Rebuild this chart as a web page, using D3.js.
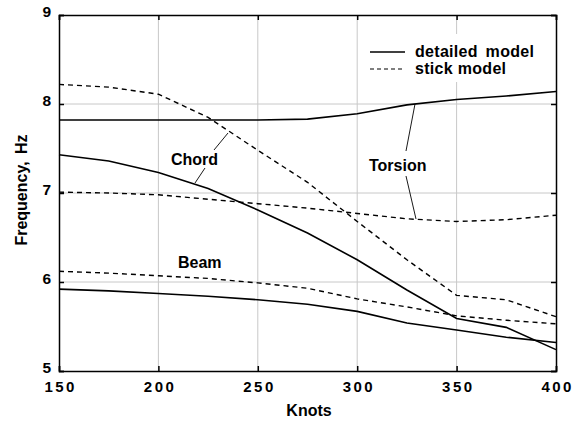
<!DOCTYPE html>
<html><head><meta charset="utf-8">
<script src="https://cdn.jsdelivr.net/npm/d3@7"></script>
<style>body{margin:0;background:#fff}svg{display:block}text{font-family:Arial,"Liberation Sans",sans-serif;font-weight:bold}</style>
</head><body>
<svg id="c" width="581" height="423"></svg>
<script>
const knots = [150,175,200,225,250,275,300,325,350,375,400];
const torsionDetailed = [7.82,7.82,7.82,7.82,7.82,7.83,7.89,7.99,8.05,8.09,8.14];
const torsionStick    = [7.01,7.00,6.98,6.93,6.88,6.83,6.77,6.71,6.68,6.70,6.75];
const chordDetailed   = [7.43,7.36,7.23,7.05,6.81,6.55,6.25,5.91,5.59,5.49,5.24];
const chordStick      = [8.22,8.19,8.11,7.85,7.48,7.12,6.68,6.25,5.85,5.80,5.61];
const beamDetailed    = [5.92,5.90,5.87,5.84,5.80,5.75,5.67,5.54,5.46,5.38,5.32];
const beamStick       = [6.12,6.10,6.07,6.04,5.99,5.93,5.81,5.72,5.62,5.57,5.53];
const xTicks = [150,200,250,300,350,400];
const yTicks = [5,6,7,8,9];

const svg = d3.select("#c");
const x = d3.scaleLinear().domain([150,400]).range([59,556]);
const y = d3.scaleLinear().domain([5,9]).range([371,15]);
const g = svg.append("g");

// grid
g.selectAll(".gx").data(xTicks.slice(1,-1)).enter().append("line")
 .attr("x1",d=>x(d)).attr("x2",d=>x(d)).attr("y1",y(9)).attr("y2",y(5))
 .attr("stroke","#c8c8c8").attr("stroke-width",1);
g.selectAll(".gy").data(yTicks.slice(1,-1)).enter().append("line")
 .attr("y1",d=>y(d)).attr("y2",d=>y(d)).attr("x1",x(150)).attr("x2",x(400))
 .attr("stroke","#c8c8c8").attr("stroke-width",1);

// legend background
g.append("rect").attr("x",364).attr("y",34).attr("width",190).attr("height",48).attr("fill","#fff");

// axes
const axB = d3.axisBottom(x).tickValues(xTicks).tickSize(-5).tickPadding(10).tickFormat(d3.format("d"));
const axT = d3.axisTop(x).tickValues(xTicks).tickSize(-5).tickFormat("");
const axL = d3.axisLeft(y).tickValues(yTicks).tickSize(-5).tickPadding(8).tickFormat(d3.format("d"));
const axR = d3.axisRight(y).tickValues(yTicks).tickSize(-5).tickFormat("");
function style(sel){sel.select(".domain").attr("stroke","#000").attr("stroke-width",1.5);
 sel.selectAll(".tick line").attr("stroke","#000").attr("stroke-width",1.5);
 sel.selectAll("text").attr("fill","#000").style("font-size","15px").style("font-family","Arial, 'Liberation Sans', sans-serif").style("font-weight","bold");}
const gb = svg.append("g").attr("transform",`translate(0,${y(5)})`).call(axB); style(gb);
gb.selectAll("text").style("letter-spacing","2.5px").attr("dx","1.2px");
const gt = svg.append("g").attr("transform",`translate(0,${y(9)})`).call(axT); style(gt);
const gl = svg.append("g").attr("transform",`translate(${x(150)},0)`).call(axL); style(gl);
gl.selectAll("text").style("font-size","15.5px").attr("y",-3);
const gr = svg.append("g").attr("transform",`translate(${x(400)},0)`).call(axR); style(gr);

// lines
const line = d3.line().x((d,i)=>x(knots[i])).y(d=>y(d));
function draw(vals,dashed){
 g.append("path").datum(vals).attr("d",line).attr("fill","none").attr("stroke","#000")
  .attr("stroke-width",dashed?1.4:1.6).attr("stroke-dasharray",dashed?"5,4":null);
}
draw(torsionDetailed,false); draw(torsionStick,true);
draw(chordDetailed,false); draw(chordStick,true);
draw(beamDetailed,false); draw(beamStick,true);

// labels and leaders
function lbl(t,px,py){svg.append("text").attr("x",px).attr("y",py).text(t).style("font-size","16px").attr("fill","#000");}
function seg(a,b,c,d){svg.append("line").attr("x1",a).attr("y1",b).attr("x2",c).attr("y2",d).attr("stroke","#000").attr("stroke-width",0.9);}
lbl("Chord",171,165);
seg(195,183,205,168); seg(214,150,228,133);
lbl("Torsion",369,171);
seg(415,104,406,151); seg(406,176,416,219);
lbl("Beam",178,268);

// legend
svg.append("line").attr("x1",370).attr("x2",405).attr("y1",52).attr("y2",52).attr("stroke","#000").attr("stroke-width",1.4);
svg.append("line").attr("x1",370).attr("x2",405).attr("y1",69).attr("y2",69).attr("stroke","#000").attr("stroke-width",1.2).attr("stroke-dasharray","4,3");
svg.append("text").attr("x",415).attr("y",57).text("detailed model").style("font-size","16px").style("letter-spacing","0.3px").style("word-spacing","3px");
svg.append("text").attr("x",415).attr("y",74).text("stick model").style("font-size","16px").style("letter-spacing","0.3px");

// axis titles
svg.append("text").attr("x",309).attr("y",416).attr("text-anchor","middle").text("Knots").style("font-size","16px");
svg.append("text").attr("transform","translate(27,190) rotate(-90)").attr("text-anchor","middle").text("Frequency, Hz").style("font-size","16px").style("word-spacing","3px");
</script>
</body></html>
